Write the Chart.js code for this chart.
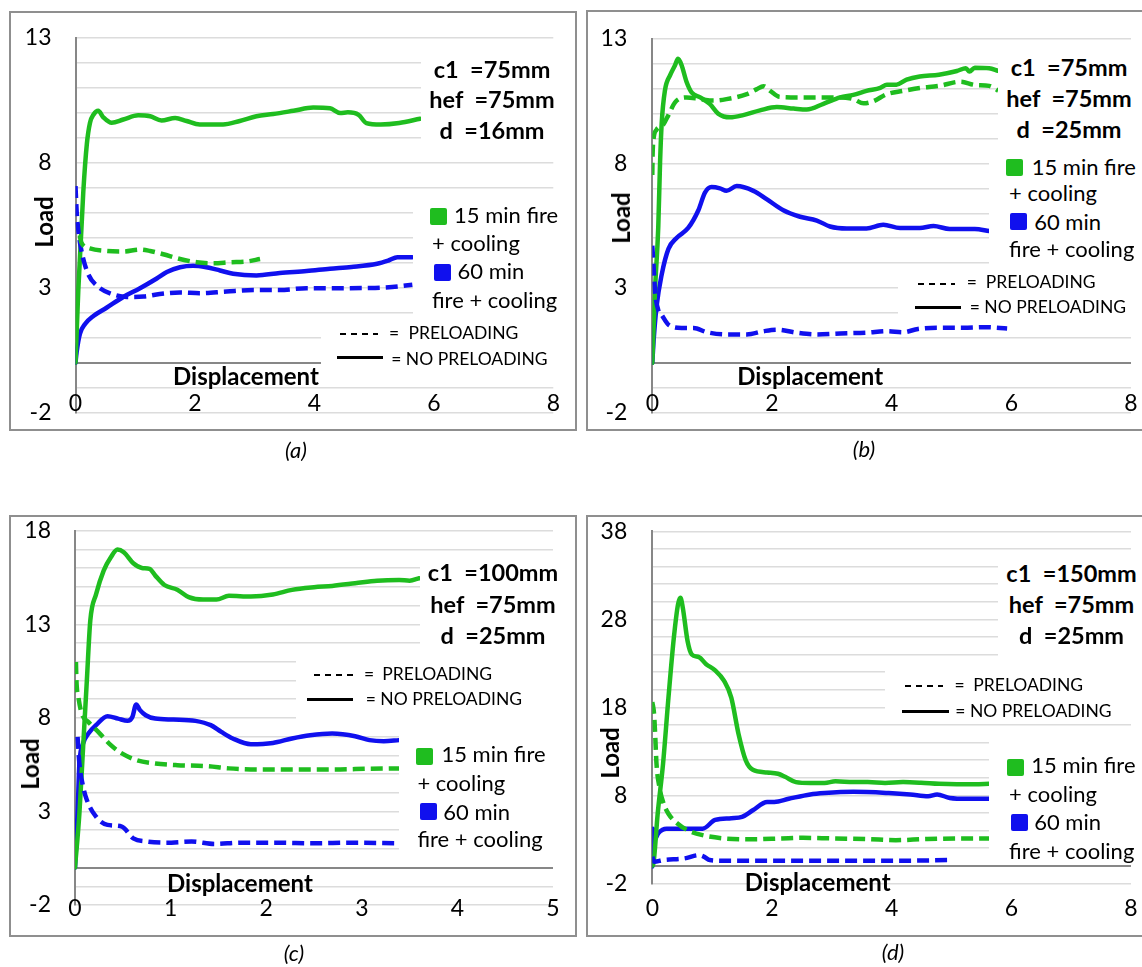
<!DOCTYPE html>
<html><head><meta charset="utf-8">
<script src="https://cdn.jsdelivr.net/npm/chart.js@4/dist/chart.umd.min.js"></script>
<style>
html,body{margin:0;padding:0;background:#fff;width:1142px;height:967px;overflow:hidden;position:relative;font-family:Lato,'Open Sans',sans-serif;}
canvas{position:absolute;}
.frame{position:absolute;border:2px solid #8f8f8f;box-sizing:border-box;}
.box{position:absolute;background:#fff;}
.t{position:absolute;white-space:pre;line-height:1;color:#000;}
.sq{position:absolute;border-radius:2px;}
.ln{position:absolute;}
</style></head>
<body>
<canvas id="ca" width="580" height="470" style="left:0px;top:0px"></canvas>
<canvas id="cb" width="562" height="470" style="left:580px;top:0px"></canvas>
<canvas id="cc" width="580" height="487" style="left:0px;top:480px"></canvas>
<canvas id="cd" width="562" height="487" style="left:580px;top:480px"></canvas>
<script>
// ---------- DATA ----------
// Panel (a): c1=75mm, hef=75mm, d=16mm
const aGreenSolidX = [0,0.047,0.13,0.19,0.243,0.30,0.38,0.466,0.606,0.80,1.05,1.25,1.44,1.67,1.86,2.08,2.47,2.75,3.03,3.31,3.65,3.98,4.26,4.43,4.56,4.74,4.87,5.11,5.42,5.77];
const aGreenSolidY = [0,2.91,6.81,8.75,9.6,9.92,10.08,9.82,9.6,9.73,9.9,9.86,9.69,9.79,9.67,9.53,9.53,9.67,9.86,9.95,10.08,10.21,10.18,9.99,10.02,9.92,9.59,9.53,9.59,9.76];
const aGreenDashX = [0.07,0.10,0.24,0.52,0.80,1.08,1.25,1.47,1.75,2.03,2.31,2.59,2.87,3.09];
const aGreenDashY = [5.1,4.80,4.57,4.47,4.45,4.53,4.47,4.34,4.15,4.02,3.98,4.02,4.05,4.15];
const aBlueSolidX = [0,0.02,0.075,0.16,0.30,0.52,0.80,1.08,1.36,1.53,1.75,1.97,2.19,2.42,2.64,3.03,3.42,3.87,4.26,4.62,5.05,5.24,5.39,5.64];
const aBlueSolidY = [0,0.44,1.16,1.55,1.87,2.2,2.63,2.98,3.37,3.63,3.82,3.88,3.82,3.69,3.56,3.49,3.59,3.67,3.76,3.83,3.96,4.09,4.22,4.22];
const aBlueDashX = [0,0.02,0.05,0.10,0.21,0.38,0.61,0.86,1.14,1.41,1.75,2.08,2.53,2.98,3.42,3.87,4.32,4.93,5.30,5.64];
const aBlueDashY = [7.07,6.03,5.25,4.47,3.56,3.04,2.75,2.63,2.65,2.75,2.81,2.78,2.85,2.91,2.91,2.98,2.98,2.99,3.03,3.12];

// Panel (b): c1=75mm, hef=75mm, d=25mm
const bGreenSolidX = [0,0.045,0.10,0.13,0.157,0.21,0.30,0.38,0.43,0.49,0.57,0.66,0.80,0.96,1.10,1.30,1.52,1.80,2.08,2.36,2.58,2.86,3.14,3.36,3.58,3.81,3.92,4.08,4.25,4.47,4.79,5.09,5.24,5.30,5.39,5.63,5.78];
const bGreenSolidY = [0,2.89,5.47,8.06,9.61,10.91,11.55,11.94,12.2,11.94,11.29,10.84,10.65,10.39,10.0,9.85,9.94,10.13,10.26,10.2,10.16,10.39,10.65,10.75,10.91,11.03,11.16,11.16,11.36,11.49,11.56,11.71,11.82,11.69,11.84,11.82,11.71];
const bGreenDashX = [0,0.005,0.02,0.07,0.18,0.27,0.38,0.57,0.80,1.02,1.24,1.58,1.74,1.86,1.97,2.13,2.47,2.80,3.14,3.36,3.53,3.69,3.92,4.19,4.47,4.79,5.15,5.39,5.63,5.78];
const bGreenDashY = [7.54,8.32,8.97,9.35,9.55,9.94,10.45,10.65,10.58,10.52,10.58,10.78,10.97,11.1,10.91,10.67,10.65,10.65,10.65,10.58,10.41,10.49,10.78,10.91,11.03,11.11,11.28,11.15,11.11,10.92];
const bBlueSolidX = [0,0.02,0.07,0.157,0.27,0.41,0.60,0.77,0.88,0.99,1.13,1.24,1.41,1.69,1.91,2.19,2.47,2.75,2.97,3.25,3.58,3.86,4.14,4.47,4.70,4.97,5.39,5.63];
const bBlueSolidY = [0,0.82,2.24,3.54,4.57,5.02,5.41,6.12,6.83,7.05,7.0,6.9,7.09,6.9,6.57,6.12,5.86,5.71,5.47,5.39,5.39,5.54,5.41,5.41,5.49,5.37,5.37,5.29];
const bBlueDashX = [0,0.02,0.045,0.10,0.157,0.27,0.49,0.69,0.91,1.24,1.58,1.86,2.08,2.41,2.75,3.14,3.58,3.92,4.19,4.44,4.79,5.27,5.57,5.93];
const bBlueDashY = [4.70,3.92,2.89,2.11,1.92,1.53,1.40,1.40,1.23,1.14,1.14,1.27,1.33,1.21,1.14,1.18,1.21,1.27,1.23,1.36,1.41,1.41,1.43,1.38];

// Panel (c): c1=100mm, hef=75mm, d=25mm
const cGreenSolidX = [0,0.046,0.085,0.124,0.16,0.22,0.30,0.375,0.444,0.51,0.61,0.70,0.78,0.84,0.935,1.07,1.19,1.34,1.48,1.61,1.84,2.07,2.27,2.50,2.69,2.93,3.16,3.39,3.50,3.60];
const cGreenSolidY = [0,2.9,6.45,10.0,13.2,14.6,15.87,16.58,16.99,16.85,16.26,16.01,15.96,15.6,15.1,14.85,14.45,14.32,14.32,14.52,14.48,14.59,14.84,14.98,15.05,15.19,15.33,15.37,15.33,15.46];
const cGreenDashX = [0.01,0.015,0.035,0.07,0.14,0.26,0.375,0.49,0.645,0.84,1.07,1.38,1.61,1.92,2.31,2.69,3.08,3.39];
const cGreenDashY = [10.98,10.0,9.12,8.23,7.78,7.16,6.54,6.10,5.74,5.56,5.47,5.42,5.30,5.24,5.24,5.24,5.28,5.30];
const cBlueSolidX = [0,0.027,0.046,0.085,0.14,0.22,0.34,0.45,0.55,0.60,0.64,0.68,0.74,0.84,1.03,1.26,1.42,1.53,1.65,1.84,2.07,2.27,2.46,2.69,2.93,3.08,3.23,3.39];
const cBlueSolidY = [0,2.9,5.56,6.63,7.16,7.61,8.09,7.96,7.84,8.05,8.72,8.41,8.14,7.96,7.91,7.84,7.61,7.25,6.9,6.59,6.66,6.9,7.07,7.16,7.02,6.81,6.75,6.81];
const cBlueDashX = [0.027,0.046,0.085,0.124,0.22,0.34,0.49,0.61,0.76,0.95,1.22,1.46,1.73,2.11,2.50,2.89,3.39];
const cBlueDashY = [6.98,5.56,4.32,3.61,2.72,2.28,2.19,1.56,1.39,1.33,1.39,1.26,1.33,1.33,1.30,1.33,1.30];

// Panel (d): c1=150mm, hef=75mm, d=25mm
const dGreenSolidX = [0,0.02,0.09,0.18,0.27,0.36,0.43,0.47,0.51,0.59,0.66,0.78,0.90,1.05,1.20,1.32,1.44,1.56,1.68,1.92,2.10,2.22,2.40,2.64,2.88,3.06,3.36,3.60,3.89,4.19,4.49,4.79,5.09,5.39,5.63];
const dGreenSolidY = [0,0.3,5.9,11.6,19.1,25.9,29.7,30.45,29.3,25.5,24.0,23.7,22.9,22.2,21.0,19.1,15.0,12.0,10.9,10.6,10.45,10.1,9.5,9.4,9.4,9.6,9.5,9.5,9.4,9.5,9.43,9.3,9.25,9.25,9.3];
const dGreenDashX = [0,0.03,0.05,0.07,0.12,0.18,0.27,0.42,0.60,0.84,1.20,1.68,2.16,2.52,3.0,3.60,4.07,4.55,5.15,5.63];
const dGreenDashY = [18.6,17.2,14.6,11.6,8.9,7.25,5.9,4.8,4.0,3.47,3.1,3.0,3.1,3.17,3.1,3.02,2.9,3.02,3.1,3.1];
const dBlueSolidX = [0,0.01,0.04,0.1,0.24,0.54,0.84,1.05,1.32,1.50,1.68,1.92,2.04,2.28,2.64,2.88,3.36,3.95,4.31,4.61,4.76,4.97,5.27,5.63];
const dBlueSolidY = [-0.1,4.2,3.0,3.7,4.2,4.2,4.2,5.2,5.4,5.55,6.3,7.25,7.25,7.6,8.1,8.26,8.4,8.26,8.1,7.9,8.1,7.7,7.6,7.6];
const dBlueDashX = [0,0.03,0.18,0.54,0.78,0.87,0.96,1.20,1.80,2.40,3.0,3.6,4.19,4.97];
const dBlueDashY = [1.0,0.45,0.64,0.83,1.2,1.0,0.64,0.57,0.57,0.57,0.57,0.57,0.57,0.64];

// Text content
const legendFire15 = ['15 min fire', '+ cooling'];
const legendFire60a = ['60 min', 'fire + cooling'];
const preloadText = 'PRELOADING';
const noPreloadText = '= NO PRELOADING';
const specA = ['c1  =75mm', 'hef  =75mm', 'd  =16mm'];
const specB = ['c1  =75mm', 'hef  =75mm', 'd  =25mm'];
const specC = ['c1  =100mm', 'hef  =75mm', 'd  =25mm'];
const specD = ['c1  =150mm', 'hef  =75mm', 'd  =25mm'];
const captions = ['(a)', '(b)', '(c)', '(d)'];

// ---------- STYLE ----------
const GREEN = '#1fbd1f', BLUE = '#1010ee';
const TICK_FONT = 23;
Chart.defaults.font.family = 'Lato';

function pts(xs, ys){ return xs.map((x,i)=>({x:x, y:ys[i]})); }
function ds(xs, ys, color, dashed){
  return {data: pts(xs,ys), borderColor: color, backgroundColor: color, borderWidth: 4.5,
    borderDash: dashed ? [12,6] : [], borderCapStyle: dashed ? 'butt' : 'round', borderJoinStyle: 'round',
    pointRadius: 0, fill: false, cubicInterpolationMode: 'monotone'};
}

// x tick labels drawn from the x scale's own ticks, at a chosen row
const xLabelRow = {
  id: 'xLabelRow',
  afterDraw(chart, args, opts) {
    const s = chart.scales.x, ctx = chart.ctx;
    ctx.save();
    ctx.font = TICK_FONT + 'px Lato'; ctx.fillStyle = '#000'; ctx.textAlign = 'center'; ctx.textBaseline = 'middle';
    s.ticks.forEach(t => ctx.fillText(String(t.value), s.getPixelForValue(t.value), opts.y));
    ctx.restore();
  }
};

function makeChart(id, c){
  return new Chart(document.getElementById(id), {
    type: 'line',
    data: {datasets: c.datasets},
    plugins: [xLabelRow],
    options: {
      responsive: false, animation: false, devicePixelRatio: 1,
      layout: {padding: {left: 0, top: c.top, right: c.right, bottom: 0}},
      plugins: {legend: {display: false}, tooltip: {enabled: false}, xLabelRow: {y: c.xLabelY}},
      scales: {
        x: {type: 'linear', min: 0, max: c.xMax,
          ticks: {stepSize: c.xStep, display: false, autoSkip: false, maxRotation: 0},
          grid: {display: false, drawTicks: false}, border: {display: false},
          afterFit: s => { s.height = c.xH; }},
        y: {type: 'linear', min: -2, max: c.yMax,
          ticks: {stepSize: c.yStep, padding: c.yPad, autoSkip: false, color: '#000', font: {size: TICK_FONT},
            callback: v => ((v + 2) % c.yLabelStep === 0 ? String(v) : '')},
          grid: {drawTicks: false,
            color: ctx => (ctx.tick && ctx.tick.value === 0 ? '#878787' : '#dcdcdc'),
            lineWidth: ctx => (ctx.tick && ctx.tick.value === 0 ? 2 : 1.5)},
          border: {display: true, color: '#878787', width: 2},
          afterFit: s => { s.width = c.yW; }}
      }
    }
  });
}

makeChart('ca', {top: 27.7, right: 26.7, yW: 75.5, xH: 57.3, xLabelY: 403.5, yPad: 24, yMax: 13, yStep: 1, yLabelStep: 5, xMax: 8, xStep: 2,
  datasets: [ds(aGreenDashX,aGreenDashY,GREEN,true), ds(aBlueDashX,aBlueDashY,BLUE,true), ds(aGreenSolidX,aGreenSolidY,GREEN,false), ds(aBlueSolidX,aBlueSolidY,BLUE,false)]});
makeChart('cb', {top: 26, right: 11, yW: 72.3, xH: 57.3, xLabelY: 404, yPad: 25, yMax: 13, yStep: 1, yLabelStep: 5, xMax: 8, xStep: 2,
  datasets: [ds(bGreenDashX,bGreenDashY,GREEN,true), ds(bBlueDashX,bBlueDashY,BLUE,true), ds(bGreenSolidX,bGreenSolidY,GREEN,false), ds(bBlueSolidX,bBlueSolidY,BLUE,false)]});
makeChart('cc', {top: 50.7, right: 27, yW: 75, xH: 62, xLabelY: 429, yPad: 24, yMax: 18, yStep: 1, yLabelStep: 5, xMax: 5, xStep: 1,
  datasets: [ds(cGreenDashX,cGreenDashY,GREEN,true), ds(cBlueDashX,cBlueDashY,BLUE,true), ds(cGreenSolidX,cGreenSolidY,GREEN,false), ds(cBlueSolidX,cBlueSolidY,BLUE,false)]});
makeChart('cd', {top: 51.3, right: 11, yW: 72.3, xH: 83.7, xLabelY: 428.3, yPad: 25, yMax: 38, yStep: 2, yLabelStep: 10, xMax: 8, xStep: 2,
  datasets: [ds(dGreenDashX,dGreenDashY,GREEN,true), ds(dBlueDashX,dBlueDashY,BLUE,true), ds(dGreenSolidX,dGreenSolidY,GREEN,false), ds(dBlueSolidX,dBlueSolidY,BLUE,false)]});

// ---------- OVERLAYS (text boxes, legends, frames) ----------
function el(cls, l, t, w, h, bg){
  const d = document.createElement('div'); d.className = cls;
  d.style.left = l+'px'; d.style.top = t+'px'; d.style.width = w+'px'; d.style.height = h+'px';
  if (bg) d.style.background = bg;
  document.body.appendChild(d); return d;
}
function txt(s, x, y, o){
  o = o || {};
  const d = document.createElement('div'); d.className = 't'; d.textContent = s;
  d.style.left = x+'px'; d.style.top = y+'px'; d.style.fontSize = (o.size||22)+'px';
  if (o.bold) d.style.fontWeight = '700';
  if (o.italic) d.style.fontStyle = 'italic';
  d.style.transform = o.rot ? 'translate(-50%,-50%) rotate(-90deg)' : (o.center ? 'translate(-50%,-50%)' : 'translateY(-50%)');
  document.body.appendChild(d); return d;
}
function boxes(list){ list.forEach(b => el('box', b[0], b[1], b[2]-b[0], b[3]-b[1])); }
function spec(lines, cx, ys){ lines.forEach((s,i) => txt(s, cx, ys[i], {bold: true, center: true, size: 23.5})); }
function legend(L){
  el('sq', L.gs[0], L.gs[1], 17, 17, GREEN);
  txt(legendFire15[0], L.g1[0], L.g1[1]);
  txt(legendFire15[1], L.g2[0], L.g2[1]);
  el('sq', L.bs[0], L.bs[1], 17, 17, BLUE);
  txt(legendFire60a[0], L.b1[0], L.b1[1]);
  txt(legendFire60a[1], L.b2[0], L.b2[1]);
}
function preLegend(P){
  const dl = el('ln', P.d[0], P.d[1]-1, P.d[2], 2);
  dl.style.background = 'repeating-linear-gradient(to right,#000 0 6px,transparent 6px 11px)';
  txt('=', P.eq[0], P.eq[1], {size: 17.5});
  txt(preloadText, P.p[0], P.p[1], {size: 17.5});
  el('ln', P.s[0], P.s[1]-1.5, P.s[2], 3, '#000');
  txt(noPreloadText, P.n[0], P.n[1], {size: 17.5});
}
const AX = {bold: true, rot: true, size: 24};
const DX = {bold: true, size: 24};
const CAP = {italic: true, center: true, size: 22};

// Panel (a)
boxes([[421,40,574,144],[413,190,574,321],[321,321,574,376]]);
txt('Load', 44, 222, AX);
txt('Displacement', 173, 376, DX);
spec(specA, 492, [70.3,100.2,131.1]);
legend({gs:[430,208], g1:[454,215], g2:[432,243.2], bs:[433.5,264], b1:[457.6,271.4], b2:[432,299.7]});
preLegend({d:[339.5,333.6,38.5], eq:[389,333], p:[408.5,333], s:[337.3,357.9,46], n:[391.2,358.5]});
txt(captions[0], 296, 450, CAP);

// Panel (b)
boxes([[998,40,1142,144],[989,144,1142,266],[898,266,1142,320]]);
txt('Load', 620.5, 218, AX);
txt('Displacement', 737.3, 376.3, DX);
spec(specB, 1069, [68,99.3,130]);
legend({gs:[1006,159], g1:[1031.7,166.7], g2:[1009.1,193.4], bs:[1010.2,213.2], b1:[1034.2,221.5], b2:[1009.1,249.4]});
preLegend({d:[917.7,283.5,37.6], eq:[966.8,282], p:[985.8,281.8], s:[915.2,307.7,45.5], n:[969.7,306.7]});
txt(captions[1], 864, 449, CAP);

// Panel (c)
boxes([[420,559,574,652],[296,652,574,727],[399,727,574,860]]);
txt('Load', 29.5, 763.5, AX);
txt('Displacement', 167, 883.4, DX);
spec(specC, 493, [573.3,604.6,635.5]);
preLegend({d:[314,674.8,38.8], eq:[363.9,674], p:[382.3,673.8], s:[306.6,699.4,46.9], n:[365.7,699.4]});
legend({gs:[415.6,748], g1:[441.4,754.3], g2:[417.4,782.6], bs:[420.4,803], b1:[443.3,811.8], b2:[417.4,839.4]});
txt(captions[2], 294, 953, CAP);

// Panel (d)
boxes([[998,557,1142,663],[885,663,1142,717],[989,735,1142,860]]);
txt('Load', 609.8, 753, AX);
txt('Displacement', 744.8, 881.7, DX);
spec(specD, 1071.5, [573.8,605,635.9]);
preLegend({d:[905.1,685.7,37.7], eq:[954.6,685], p:[973.3,685], s:[902.2,711.3,46.7], n:[955.3,710.6]});
legend({gs:[1007.3,759], g1:[1031.3,765.4], g2:[1009.1,793.6], bs:[1010.9,814.2], b1:[1034.2,821.9], b2:[1009.1,850.8]});
txt(captions[3], 893, 952.4, CAP);

// Frames
el('frame', 9, 11, 568, 420);
el('frame', 586, 10, 570, 421);
el('frame', 9, 515, 568, 422);
el('frame', 586, 515, 570, 422);
</script>
</body></html>
